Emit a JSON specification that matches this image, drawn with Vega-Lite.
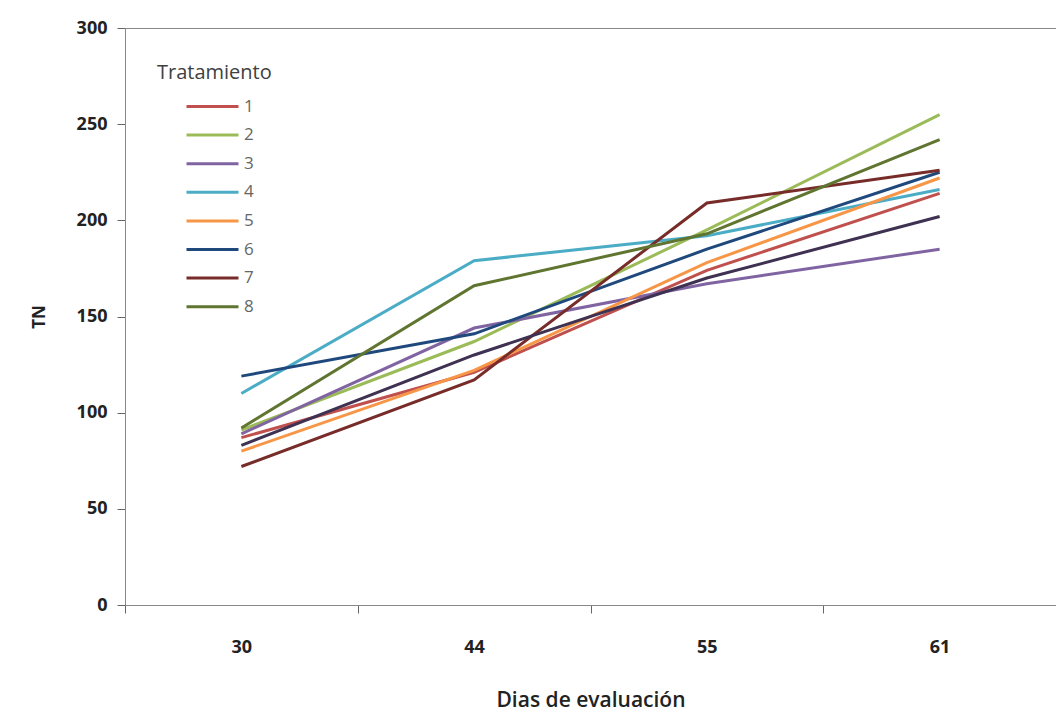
{
  "$schema": "https://vega.github.io/schema/vega-lite/v6.json",
  "autosize": {"type": "none"},
  "padding": {"left": 125, "top": 28, "right": 0, "bottom": 108},
  "width": 931,
  "height": 577,
  "background": "white",
  "config": {
    "font": "Open Sans",
    "view": {"stroke": "#888888", "strokeWidth": 1}
  },
  "data": {
    "values": [
      {"dia": "30", "trat": "1", "tn": 87}, {"dia": "44", "trat": "1", "tn": 121}, {"dia": "55", "trat": "1", "tn": 174}, {"dia": "61", "trat": "1", "tn": 214},
      {"dia": "30", "trat": "2", "tn": 91}, {"dia": "44", "trat": "2", "tn": 137}, {"dia": "55", "trat": "2", "tn": 195}, {"dia": "61", "trat": "2", "tn": 255},
      {"dia": "30", "trat": "3", "tn": 89}, {"dia": "44", "trat": "3", "tn": 144}, {"dia": "55", "trat": "3", "tn": 167}, {"dia": "61", "trat": "3", "tn": 185},
      {"dia": "30", "trat": "4", "tn": 110}, {"dia": "44", "trat": "4", "tn": 179}, {"dia": "55", "trat": "4", "tn": 192}, {"dia": "61", "trat": "4", "tn": 216},
      {"dia": "30", "trat": "5", "tn": 80}, {"dia": "44", "trat": "5", "tn": 122}, {"dia": "55", "trat": "5", "tn": 178}, {"dia": "61", "trat": "5", "tn": 222},
      {"dia": "30", "trat": "6", "tn": 119}, {"dia": "44", "trat": "6", "tn": 141}, {"dia": "55", "trat": "6", "tn": 185}, {"dia": "61", "trat": "6", "tn": 225},
      {"dia": "30", "trat": "7", "tn": 72}, {"dia": "44", "trat": "7", "tn": 117}, {"dia": "55", "trat": "7", "tn": 209}, {"dia": "61", "trat": "7", "tn": 226},
      {"dia": "30", "trat": "8", "tn": 92}, {"dia": "44", "trat": "8", "tn": 166}, {"dia": "55", "trat": "8", "tn": 193}, {"dia": "61", "trat": "8", "tn": 242},
      {"dia": "30", "trat": "9", "tn": 83}, {"dia": "44", "trat": "9", "tn": 130}, {"dia": "55", "trat": "9", "tn": 170}, {"dia": "61", "trat": "9", "tn": 202}
    ]
  },
  "encoding": {
    "x": {
      "field": "dia", "type": "ordinal", "sort": ["30", "44", "55", "61"],
      "scale": {"type": "band", "paddingInner": 0, "paddingOuter": 0},
      "axis": {
        "title": "Dias de evaluación", "titleFontSize": 21, "titleFontWeight": 600, "titleColor": "#222222", "titlePadding": 33,
        "labelAngle": 0, "labelFontSize": 18, "labelFontWeight": "bold", "labelColor": "#222222", "labelPadding": 25,
        "tickBand": "extent", "tickSize": 8, "tickColor": "#666666", "domainColor": "#888888", "grid": false
      }
    },
    "y": {
      "field": "tn", "type": "quantitative",
      "scale": {"domain": [0, 300], "nice": false},
      "axis": {
        "title": "TN", "titleFontSize": 17, "titleFontWeight": "bold", "titleColor": "#222222", "titlePadding": 28,
        "values": [0, 50, 100, 150, 200, 250, 300],
        "labelFontSize": 18, "labelFontWeight": "bold", "labelColor": "#222222", "labelPadding": 10,
        "tickSize": 8, "tickColor": "#666666", "domainColor": "#888888", "grid": false
      }
    }
  },
  "layer": [
    {
      "transform": [{"filter": "datum.trat != '9'"}],
      "mark": {"type": "line", "strokeWidth": 3},
      "encoding": {
        "color": {
          "field": "trat", "type": "nominal",
          "scale": {
            "domain": ["1", "2", "3", "4", "5", "6", "7", "8"],
            "range": ["#C0504D", "#9BBB59", "#8064A2", "#4BACC6", "#F79646", "#1F497D", "#772C2A", "#5F7530"]
          },
          "legend": {
            "title": "Tratamiento", "orient": "none", "legendX": 32, "legendY": 35,
            "titleFontSize": 20, "titleFontWeight": "normal", "titleColor": "#404040", "titlePadding": 12,
            "symbolType": "M-2.6,0H2.6", "symbolSize": 400, "symbolStrokeWidth": 3, "symbolOffset": 44,
            "labelFontSize": 17, "labelColor": "#666666", "labelOffset": 20, "rowPadding": 8.6
          }
        }
      }
    },
    {
      "transform": [{"filter": "datum.trat == '9'"}],
      "mark": {"type": "line", "strokeWidth": 3, "color": "#3F3151"}
    }
  ]
}
